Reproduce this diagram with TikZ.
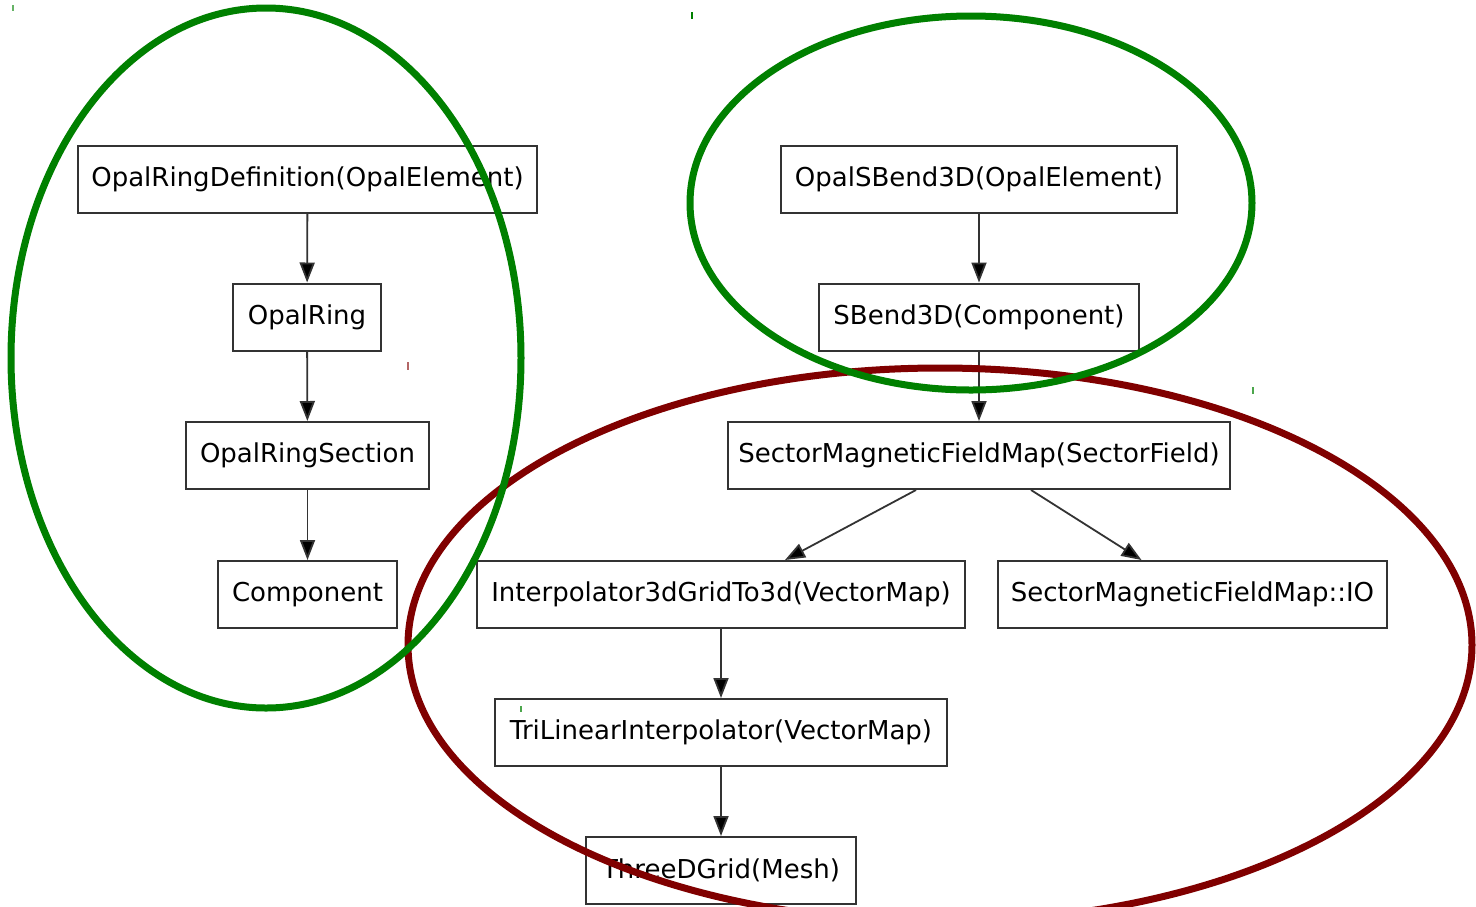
\documentclass[tikz,border=0pt]{standalone}
\usepackage{fontspec}
\setmainfont{DejaVu Sans}
\usetikzlibrary{arrows.meta}
\definecolor{ringgreen}{HTML}{008000}
\definecolor{ringred}{HTML}{800000}
\definecolor{edge}{HTML}{333333}
\begin{document}
\begin{tikzpicture}[x=1pt,y=-1pt,
  box/.style={draw=edge, line width=2pt, fill=white, minimum height=67pt, inner sep=0pt, font=\fontsize{26}{30}\selectfont},
  arr/.style={draw=edge, line width=1.8pt, -{Triangle[length=20pt,width=15pt,fill=black]}},
  ring/.style={line width=7pt},
  tick/.style={line width=1.2pt}]
\useasboundingbox (0,0) rectangle (1476,906);
\fill[white] (0,0) rectangle (1476,906);
\node[box, minimum width=459pt] (a) at (307.5,179) {OpalRingDefinition(OpalElement)};
\node[box, minimum width=148pt] (b) at (307,317) {OpalRing};
\node[box, minimum width=243pt] (c) at (307.5,455.5) {OpalRingSection};
\node[box, minimum width=179pt] (d) at (307.5,594.5) {Component};
\node[box, minimum width=396pt] (e) at (979,179) {OpalSBend3D(OpalElement)};
\node[box, minimum width=320pt] (f) at (979,317) {SBend3D(Component)};
\node[box, minimum width=502pt] (g) at (979,455.5) {SectorMagneticFieldMap(SectorField)};
\node[box, minimum width=488pt] (h) at (721,594.5) {Interpolator3dGridTo3d(VectorMap)};
\node[box, minimum width=389pt] (i) at (1192.5,594.5) {SectorMagneticFieldMap::IO};
\node[box, minimum width=452pt] (j) at (721,732.5) {TriLinearInterpolator(VectorMap)};
\node[box, minimum width=270pt] (k) at (721,870.5) {ThreeDGrid(Mesh)};
\draw[arr] (a) -- (b);
\draw[arr] (b) -- (c);
\draw[arr] (c) -- (d);
\draw[arr] (e) -- (f);
\draw[arr] (f) -- (g);
\draw[arr] ([xshift=-63pt]g.south) -- ([xshift=64pt]h.north);
\draw[arr] ([xshift=52pt]g.south) -- ([xshift=-51pt]i.north);
\draw[arr] (h) -- (j);
\draw[arr] (j) -- (k);
\draw[ring, ringred] (940,645) ellipse [x radius=532pt, y radius=277pt];
\draw[ring, ringgreen] (266,358) ellipse [x radius=255pt, y radius=350pt];
\draw[ring, ringgreen] (971,203) ellipse [x radius=281pt, y radius=187pt];
\draw[tick, ringgreen!60] (13,5) -- (13,11);
\draw[tick, ringgreen] (692,12) -- (692,19);
\draw[tick, ringred!60] (408,362) -- (408,370);
\draw[tick, ringgreen!70] (1253,387) -- (1253,394);
\draw[tick, ringgreen!70] (521,706) -- (521,712);
\end{tikzpicture}
\end{document}
